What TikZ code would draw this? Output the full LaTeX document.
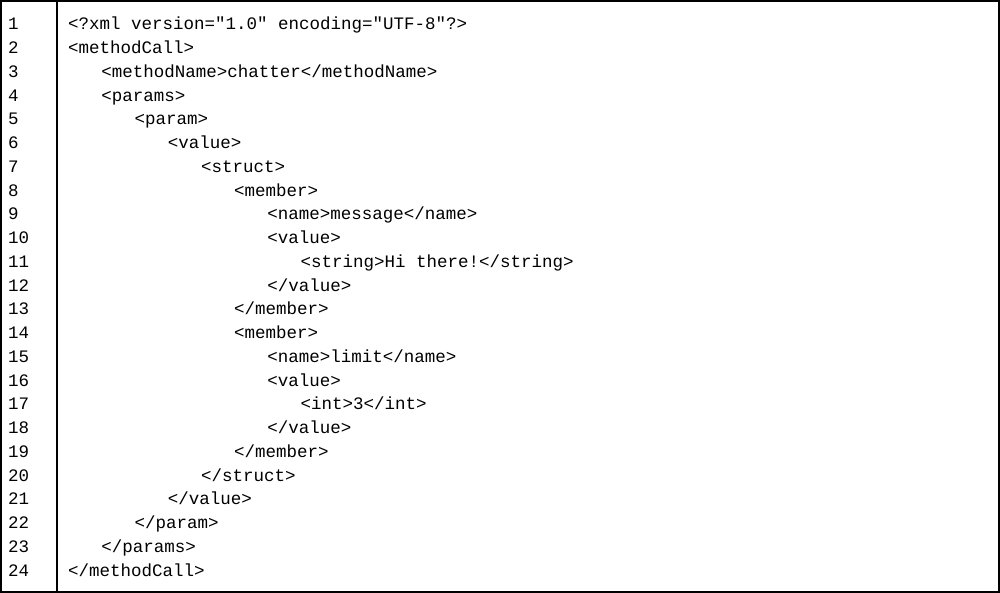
\documentclass[tikz,border=0pt]{standalone}
\usepackage{fontspec}
\setmonofont{Liberation Mono}
\begin{document}
\begin{tikzpicture}[x=1pt,y=-1pt,
  codetxt/.style={anchor=base west,inner sep=0pt,font=\ttfamily\fontsize{17.5}{20}\selectfont}]
\useasboundingbox (0,0) rectangle (1000,593);
\draw[line width=1.6pt] (1,1) rectangle (999,592);
\draw[line width=1.2pt] (57,1) -- (57,592);
\foreach \n/\ind/\t in {
1/0/{<?xml version="1.0" encoding="UTF-8"?>},
2/0/{<methodCall>},
3/1/{<methodName>chatter</methodName>},
4/1/{<params>},
5/2/{<param>},
6/3/{<value>},
7/4/{<struct>},
8/5/{<member>},
9/6/{<name>message</name>},
10/6/{<value>},
11/7/{<string>Hi there!</string>},
12/6/{</value>},
13/5/{</member>},
14/5/{<member>},
15/6/{<name>limit</name>},
16/6/{<value>},
17/7/{<int>3</int>},
18/6/{</value>},
19/5/{</member>},
20/4/{</struct>},
21/3/{</value>},
22/2/{</param>},
23/1/{</params>},
24/0/{</methodCall>}}{
  \node[codetxt] (num\n) at (8,{30+(\n-1)*23.74}) {\n};
  \node[codetxt] (line\n) at ({68+\ind*33.2},{30+(\n-1)*23.74}) {\detokenize\expandafter{\t}};
}
\end{tikzpicture}
\end{document}
